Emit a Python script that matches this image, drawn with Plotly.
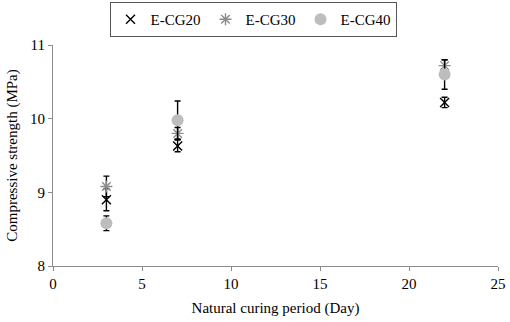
import plotly.graph_objects as go

days = [3, 7, 22]
cg20 = [8.90, 9.63, 10.22]
cg20_err = [0.15, 0.08, 0.07]
cg30 = [9.08, 9.80, 10.72]
cg30_err = [0.14, 0.08, 0.08]
cg40 = [8.58, 9.98, 10.60]
cg40_err = [0.10, 0.26, 0.20]

font = "Liberation Serif"
W, H = 510, 322

fig = go.Figure()
fig.add_trace(go.Scatter(
    x=days, y=cg20, mode="markers", name="E-CG20",
    marker=dict(symbol="x-thin", size=9, line=dict(color="black", width=1.4), color="black"),
    error_y=dict(type="data", array=cg20_err, color="black", thickness=1.4, width=3),
))
fig.add_trace(go.Scatter(
    x=days, y=cg30, mode="markers", name="E-CG30",
    marker=dict(symbol="asterisk-open", size=10, line=dict(color="#8c8c8c", width=1.4), color="#8c8c8c"),
    error_y=dict(type="data", array=cg30_err, color="black", thickness=1.4, width=3),
))
fig.add_trace(go.Scatter(
    x=days, y=cg40, mode="markers", name="E-CG40",
    marker=dict(symbol="circle", size=12, color="#bdbdbd"),
    error_y=dict(type="data", array=cg40_err, color="black", thickness=1.4, width=3),
))

fig.update_layout(
    width=W, height=H,
    margin=dict(l=53, r=12, t=45, b=56, autoexpand=False),
    paper_bgcolor="white", plot_bgcolor="white",
    font=dict(family=font, size=14, color="black"),
    showlegend=True,
    legend=dict(
        orientation="h", x=253 / W, xanchor="center", y=1 - 2 / H, yanchor="top",
        xref="container", yref="container",
        bordercolor="#555", borderwidth=1, bgcolor="white",
        font=dict(family=font, size=15), itemwidth=30, tracegroupgap=0,
        entrywidth=50,
    ),
    xaxis=dict(
        range=[0, 25], dtick=5, showgrid=False, zeroline=False, automargin=False,
        showline=True, linecolor="#8c8c8c", linewidth=1,
        ticks="outside", ticklen=4, tickcolor="#8c8c8c",
        tickfont=dict(size=15),
        title=dict(text="Natural curing period (Day)", font=dict(size=15), standoff=11),
    ),
    yaxis=dict(
        range=[8, 11], dtick=1, showgrid=False, zeroline=False, automargin=False,
        showline=True, linecolor="#8c8c8c", linewidth=1,
        ticks="outside", ticklen=4, tickcolor="#8c8c8c",
        tickfont=dict(size=15),
        title=dict(text="Compressive strength (MPa)", font=dict(size=15), standoff=8),
    ),
)

fig.write_html(
    "out.html",
    config={"displayModeBar": False},
    post_script="document.body.style.margin='0';document.body.style.overflow='hidden';",
)
